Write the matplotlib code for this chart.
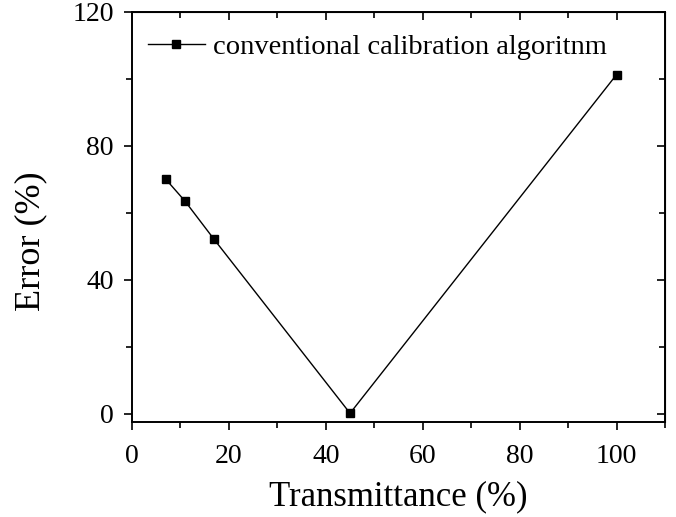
import matplotlib
matplotlib.use("Agg")
import matplotlib.pyplot as plt
from matplotlib.ticker import MultipleLocator

transmittance = [6.95, 10.9, 16.9, 45.0, 100.0]
error = [70.1, 63.6, 52.2, 0.2, 101.3]
series_label = "conventional calibration algoritnm"
xticks = [0, 20, 40, 60, 80, 100]
yticks = [0, 40, 80, 120]

plt.rcParams['font.family'] = ['Liberation Serif', 'DejaVu Serif']
fig = plt.figure(figsize=(6.76, 5.17), dpi=100)
ax = fig.add_axes([0.1953, 0.1838, 0.9837 - 0.1953, 0.9768 - 0.1838])

ax.plot(transmittance, error, color='black', lw=1.0, marker='s', ms=5.5,
        markerfacecolor='black', markeredgecolor='black', label=series_label)

ax.set_xlim(0, 110)
ax.set_ylim(-2.4, 120)
ax.set_xticks(xticks)
ax.set_yticks(yticks)
ax.xaxis.set_minor_locator(MultipleLocator(10))
ax.yaxis.set_minor_locator(MultipleLocator(20))
for s in ax.spines.values():
    s.set_linewidth(1.4)
ax.tick_params(which='both', direction='out', top=False, right=False, width=1.2)
ax.tick_params(which='major', length=6, labelsize=20)
ax.tick_params(axis='x', which='major', pad=10)
ax.tick_params(axis='y', which='major', pad=7)
ax.tick_params(which='minor', length=4)
# inward ticks on top and right
axt = ax.secondary_xaxis('top')
axt.set_xticks(xticks)
axt.xaxis.set_minor_locator(MultipleLocator(10))
axt.tick_params(which='both', direction='in', labeltop=False, width=1.2)
axt.tick_params(which='major', length=6)
axt.tick_params(which='minor', length=4)
axr = ax.secondary_yaxis('right')
axr.set_yticks(yticks)
axr.yaxis.set_minor_locator(MultipleLocator(20))
axr.tick_params(which='both', direction='in', labelright=False, width=1.2)
axr.tick_params(which='major', length=6)
axr.tick_params(which='minor', length=4)

ax.set_xlabel("Transmittance (%)", fontsize=25, labelpad=8)
ax.set_ylabel("Error (%)", fontsize=26)
ax.yaxis.set_label_coords(-0.158, 0.44)

ax.legend(loc='upper left', frameon=False, fontsize=20.5, handlelength=2.0,
          handletextpad=0.3, bbox_to_anchor=(-0.008, 0.995), borderaxespad=0.3)

fig.savefig("out.png", dpi=100)
